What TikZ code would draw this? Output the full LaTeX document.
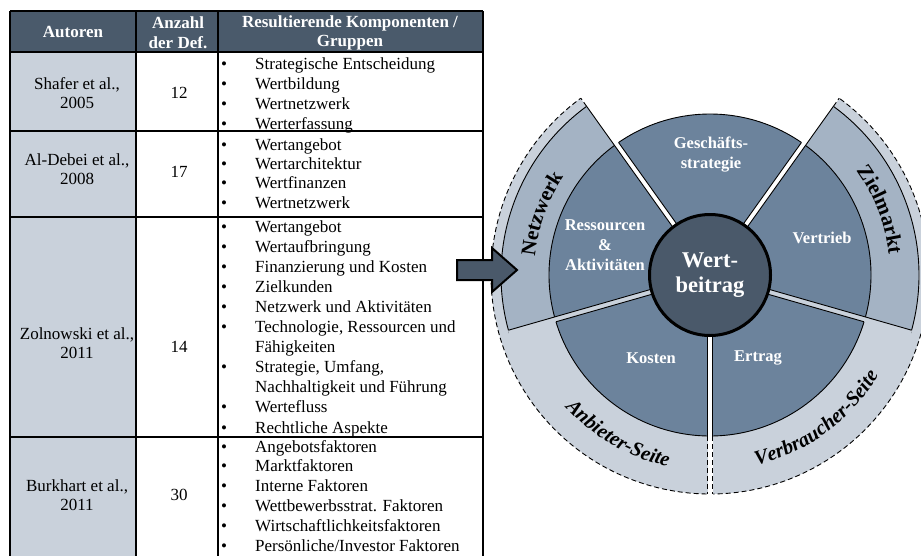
\documentclass[tikz,border=0pt]{standalone}
\usepackage{fontspec}
\setmainfont{Liberation Serif}
\usetikzlibrary{decorations.text}
\definecolor{headCol}{HTML}{4A5A6B}
\definecolor{sideCol}{HTML}{C9D1DB}
\definecolor{segCol}{HTML}{6C839C}
\definecolor{ringCol}{HTML}{A4B3C4}
\definecolor{coreCol}{HTML}{4A596A}
\newcommand{\tabfont}{\fontsize{17}{19.6}\selectfont}
\newcommand{\segfont}{\fontsize{16.5}{20}\selectfont\bfseries}
\newcommand{\ringfont}{\fontsize{21}{24}\selectfont\bfseries}
\newcommand{\sidefont}{\fontsize{20.5}{24}\selectfont\bfseries\itshape}
\tikzstyle{rule}=[draw=black, line width=2.2pt]
\tikzstyle{heavyrule}=[draw=black, line width=2.8pt]
\tikzstyle{headtext}=[text=white, font=\tabfont\bfseries, align=center, inner sep=0pt]
\tikzstyle{celltext}=[font=\tabfont, align=center, inner sep=0pt]
\tikzstyle{entry}=[font=\tabfont, inner sep=0pt, anchor=base west]
\tikzstyle{segment}=[draw=black, line width=0.9pt, fill=segCol]
\tikzstyle{ringseg}=[draw=black, line width=0.9pt, fill=ringCol]
\tikzstyle{border}=[draw=black, line width=0.9pt]
\tikzstyle{outline}=[draw=black, line width=0.9pt, dash pattern=on 5pt off 3pt]
\tikzstyle{seglabel}=[text=white, font=\segfont, align=center, inner sep=0pt]

\begin{document}
\begin{tikzpicture}[x=1pt, y=1pt]
    \useasboundingbox (0,0) rectangle (921,-555);
    \clip (0,0) rectangle (921,-555);

    % ==== TABLE ====
    \fill[headCol] (10,-11) rectangle (483,-52);
    \fill[sideCol] (10,-52) rectangle (136,-570);

    % rules
    \foreach \y in {11, 52, 131, 217, 437}
        \draw[rule] (10,-\y) -- (483,-\y);
    \draw[heavyrule] (10,-11) -- (10,-570);
    \draw[heavyrule] (136,-11) -- (136,-570);
    \draw[draw=black, line width=2pt] (218,-11) -- (218,-570);
    \draw[draw=black, line width=1.6pt] (483,-11) -- (483,-570);

    % header
    \node[headtext] (h-autor) at (73,-32) {Autoren};
    \node[headtext] (h-anzahl) at (178,-33) {Anzahl\\der Def.};
    \node[headtext] (h-komp) at (350,-33) {Resultierende Komponenten /\\Gruppen};

    % === AUTHORS AND COUNTS ===
    \node[celltext] (a-shafer) at (77,-93) {Shafer et al.,\\2005};
    \node[celltext] (n-shafer) at (179,-93) {12};
    \node[celltext] (a-debei) at (77,-169) {Al-Debei et al.,\\2008};
    \node[celltext] (n-debei) at (179,-172) {17};
    \node[celltext] (a-zolnowski) at (77,-343) {Zolnowski et al.,\\2011};
    \node[celltext] (n-zolnowski) at (179,-347) {14};
    \node[celltext] (a-burkhart) at (77,-495) {Burkhart et al.,\\2011};
    \node[celltext] (n-burkhart) at (179,-495) {30};

    % === COMPONENT LISTS ===
    \foreach \b/\txt [count=\i from 0] in {1/Strategische Entscheidung, 1/Wertbildung, 1/Wertnetzwerk, 1/Werterfassung}
        \node[entry] (shafer-\i) at (221,-69-20*\i) {\makebox[34pt][l]{\ifnum\b=1 \textbullet\fi}\txt};
    \foreach \b/\txt [count=\i from 0] in {1/Wertangebot, 1/Wertarchitektur, 1/Wertfinanzen, 1/Wertnetzwerk}
        \node[entry] (debei-\i) at (221,-150-19.4*\i) {\makebox[34pt][l]{\ifnum\b=1 \textbullet\fi}\txt};
    \foreach \b/\txt [count=\i from 0] in {1/Wertangebot, 1/Wertaufbringung, 1/Finanzierung und Kosten, 1/Zielkunden,
            1/Netzwerk und Aktivitäten, 1/{Technologie, Ressourcen und}, 0/Fähigkeiten, 1/{Strategie, Umfang,},
            0/Nachhaltigkeit und Führung, 1/Wertefluss, 1/Rechtliche Aspekte}
        \node[entry] (zolnowski-\i) at (221,-232-20.1*\i) {\makebox[34pt][l]{\ifnum\b=1 \textbullet\fi}\txt};
    \foreach \b/\txt [count=\i from 0] in {1/Angebotsfaktoren, 1/Marktfaktoren, 1/Interne Faktoren,
            1/Wettbewerbsstrat. Faktoren, 1/Wirtschaftlichkeitsfaktoren, 1/{Persönliche/Investor Faktoren}}
        \node[entry] (burkhart-\i) at (221,-452-19.8*\i) {\makebox[34pt][l]{\ifnum\b=1 \textbullet\fi}\txt};

    % ==== WHEEL ====
    \begin{scope}[shift={(710,-275)}]
        % outer band: provider and consumer side
        \fill[sideCol] (0,0) -- (125.5:219) arc[start angle=125.5, end angle=270, radius=219] -- cycle;
        \fill[sideCol] (0,0) -- (270:219) arc[start angle=270, end angle=414.5, radius=219] -- cycle;
        \draw[outline] (125.5:219) arc[start angle=125.5, end angle=414.5, radius=219];

        % middle ring
        \draw[ringseg] (0,0) -- (125.5:209) arc[start angle=125.5, end angle=196, radius=209] -- cycle;
        \draw[ringseg] (0,0) -- (-16:209) arc[start angle=-16, end angle=54.5, radius=209] -- cycle;

        % inner segments
        \foreach \a/\b in {54.5/125.5, 125.5/196, 196/270, 270/344, -16/54.5}
            \draw[segment] (0,0) -- (\a:161) arc[start angle=\a, end angle=\b, radius=161] -- cycle;

        % gaps between the segments
        \draw[white, line width=5pt] (0,0) -- (125.5:221);
        \draw[white, line width=5pt] (0,0) -- (54.5:221);
        \draw[white, line width=5pt] (0,0) -- (270:221);
        \draw[sideCol, line width=5pt] (0,0) -- (196:209.5);
        \draw[sideCol, line width=5pt] (0,0) -- (-16:209.5);

        % gap edges
        \draw[border, shift={(215.5:2.5)}] (0,0) -- (125.5:209);
        \draw[outline, shift={(215.5:2.5)}] (125.5:209) -- (125.5:219);
        \draw[border, shift={(35.5:2.5)}] (0,0) -- (125.5:161);
        \draw[border, shift={(-35.5:2.5)}] (0,0) -- (54.5:209);
        \draw[outline, shift={(-35.5:2.5)}] (54.5:209) -- (54.5:219);
        \draw[border, shift={(144.5:2.5)}] (0,0) -- (54.5:161);
        \draw[border, shift={(106:2.5)}] (0,0) -- (196:209);
        \draw[border, shift={(286:2.5)}] (0,0) -- (196:161);
        \draw[border, shift={(74:2.5)}] (0,0) -- (-16:209);
        \draw[border, shift={(254:2.5)}] (0,0) -- (-16:161);
        \foreach \s in {0, 180} {
            \draw[border, shift={(\s:2.5)}] (0,0) -- (270:161);
            \draw[outline, shift={(\s:2.5)}] (270:161) -- (270:219);
        }

        % core
        \node[circle, draw=black, line width=3pt, fill=coreCol, minimum size=121pt, inner sep=0pt,
              text=white, font=\fontsize{22.5}{25}\selectfont\bfseries, align=center] (core) at (0,0) {Wert-\\beitrag};

        % segment labels
        \node[seglabel] (strategie) at (1,120) {Geschäfts-\\strategie};
        \node[seglabel] (ressourcen) at (-105,30) {Ressourcen\\\&\\Aktivitäten};
        \node[seglabel] (vertrieb) at (112,37) {Vertrieb};
        \node[seglabel] (kosten) at (-59,-83) {Kosten};
        \node[seglabel] (ertrag) at (48,-83) {Ertrag};

        % ring labels
        \path[decorate, decoration={text along path, text={|\ringfont|Netzwerk}, text align=center}]
            (175:176) arc[start angle=175, end angle=145, radius=176];
        \path[decorate, decoration={text along path, text={|\ringfont|Zielmarkt}, text align=center}]
            (36:180) arc[start angle=36, end angle=6, radius=180];
        \path[decorate, decoration={text along path, text={|\sidefont|Anbieter-Seite}, text align=center}]
            (220:196) arc[start angle=220, end angle=260, radius=196];
        \path[decorate, decoration={text along path, text={|\sidefont|Verbraucher-Seite}, text align=center}]
            (283:196) arc[start angle=283, end angle=330, radius=196];
    \end{scope}

    % ==== ARROW ====
    \draw[draw=black, line width=2pt, fill=coreCol, line join=miter]
        (457,-260) -- (492,-260) -- (492,-248) -- (517,-270) -- (492,-292) -- (492,-280) -- (457,-280) -- cycle;

\end{tikzpicture}
\end{document}
